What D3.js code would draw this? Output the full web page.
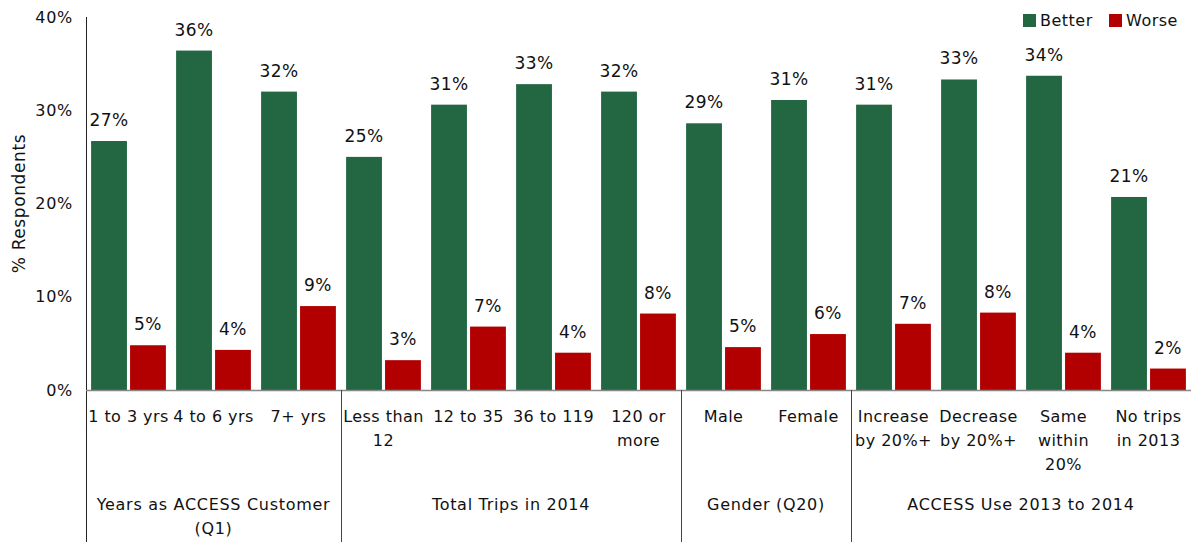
<!DOCTYPE html>

<head>
  <meta charset="utf-8">
  <script src="https://cdnjs.cloudflare.com/ajax/libs/d3/7.8.5/d3.min.js"></script>
</head>

<style>
  body { margin: 0; background: #fff; }
  text {
    font-family: "DejaVu Sans", sans-serif;
    font-size: 16px;
    fill: #111;
    letter-spacing: 0.7px;
  }
  .catlbl { letter-spacing: 0.45px; }
  .lbl { font-size: 17px; letter-spacing: 0.5px; }
  .ytitle { font-size: 17px; letter-spacing: 0.6px; }
  .bar_better { fill: #236642; }
  .bar_worse { fill: #b20000; }
</style>

<body>
  <svg width="1191" height="542" viewBox="0 0 1191 542" class="my_bar"></svg>

  <script>

  // categories (| = line break as in the original)
  let categories = ["1 to 3 yrs", "4 to 6 yrs", "7+ yrs",
                    "Less than|12", "12 to 35", "36 to 119", "120 or|more",
                    "Male", "Female",
                    "Increase|by 20%+", "Decrease|by 20%+", "Same|within|20%", "No trips|in 2013"];
  let better = [26.7, 36.4, 32.0, 25.0, 30.6, 32.8, 32.0, 28.6, 31.1, 30.6, 33.3, 33.7, 20.7];
  let worse  = [4.8, 4.3, 9.0, 3.2, 6.8, 4.0, 8.2, 4.6, 6.0, 7.1, 8.3, 4.0, 2.3];
  let groups = ["Years as ACCESS Customer|(Q1)", "Total Trips in 2014", "Gender (Q20)", "ACCESS Use 2013 to 2014"];
  let groupSizes = [3, 4, 2, 4];
  let yTicks = [0, 10, 20, 30, 40];
  let series = ["Better", "Worse"];

  let svg = d3.select(".my_bar");

  let pLeft = 86, pRight = 1191, pTop = 17, pBase = 390, pBottom = 542;

  let x0 = d3.scaleBand().domain(d3.range(categories.length))
      .range([pLeft, pRight]).paddingInner(0.12).paddingOuter(0.06);
  let x1 = d3.scaleBand().domain(series).range([0, x0.bandwidth()]).paddingInner(0.08);
  let y = d3.scaleLinear().domain([0, 40]).range([pBase, pTop]);

  let data = categories.map(function(c, i) {
    return {i: i, vals: [{s: "Better", v: better[i]}, {s: "Worse", v: worse[i]}]};
  });

  // bars
  let cat = svg.selectAll(".cat").data(data).enter().append("g")
      .attr("transform", function(d) { return "translate(" + x0(d.i) + ",0)"; });

  cat.selectAll("rect").data(function(d) { return d.vals; }).enter().append("rect")
      .attr("class", function(d) { return d.s == "Better" ? "bar_better" : "bar_worse"; })
      .attr("x", function(d) { return x1(d.s); })
      .attr("y", function(d) { return y(d.v); })
      .attr("width", x1.bandwidth())
      .attr("height", function(d) { return pBase - y(d.v); });

  cat.selectAll(".lbl").data(function(d) { return d.vals; }).enter().append("text")
      .attr("class", "lbl")
      .attr("text-anchor", "middle")
      .attr("x", function(d) { return x1(d.s) + x1.bandwidth() / 2; })
      .attr("y", function(d) { return y(d.v) - 15; })
      .text(function(d) { return d3.format(".0f")(d.v) + "%"; });

  // y axis
  let yAxis = svg.append("g")
      .attr("transform", "translate(" + pLeft + ",0)")
      .call(d3.axisLeft(y).tickValues(yTicks).tickSize(0).tickPadding(13)
            .tickFormat(function(d) { return d + "%"; }));
  yAxis.select(".domain").remove();
  yAxis.selectAll("text").style("font-size", "16px").style("font-family", "DejaVu Sans");

  svg.append("line")
      .attr("x1", pLeft + 0.5).attr("x2", pLeft + 0.5)
      .attr("y1", pTop).attr("y2", pBottom)
      .attr("stroke", "#222").attr("stroke-width", 1);

  svg.append("text")
      .attr("class", "ytitle")
      .attr("transform", "translate(25," + ((pTop + pBase) / 2) + ") rotate(-90)")
      .attr("text-anchor", "middle")
      .text("% Respondents");

  // x axis line
  svg.append("line")
      .attr("x1", pLeft).attr("x2", pRight)
      .attr("y1", pBase + 0.5).attr("y2", pBase + 0.5)
      .attr("stroke", "#888").attr("stroke-width", 1.5);

  // category labels
  let step = x0.step();
  let edge = function(i) { return x0(i) - (step - x0.bandwidth()) / 2; };

  svg.selectAll(".catlbl").data(categories).enter().append("text")
      .attr("class", "catlbl")
      .attr("text-anchor", "middle")
      .attr("y", 422)
      .each(function(c, i) {
        let t = d3.select(this);
        c.split("|").forEach(function(line, k) {
          t.append("tspan")
            .attr("x", x0(i) + x0.bandwidth() / 2)
            .attr("dy", k == 0 ? 0 : 24)
            .text(line);
        });
      });

  // group separators and labels
  let starts = [];
  let acc = 0;
  groupSizes.forEach(function(n) { starts.push(acc); acc += n; });

  starts.forEach(function(s, gi) {
    if (gi > 0) {
      svg.append("line")
        .attr("x1", Math.round(edge(s)) + 0.5).attr("x2", Math.round(edge(s)) + 0.5)
        .attr("y1", pBase).attr("y2", pBottom)
        .attr("stroke", "#444").attr("stroke-width", 1);
    }
    let a = edge(s), b = edge(s + groupSizes[gi] - 1) + step;
    let t = svg.append("text").attr("text-anchor", "middle").attr("y", 510);
    groups[gi].split("|").forEach(function(line, k) {
      t.append("tspan").attr("x", (a + b) / 2).attr("dy", k == 0 ? 0 : 24).text(line);
    });
  });

  // legend
  let legendX = [1023, 1109];
  let legend = svg.selectAll(".leg").data(series).enter().append("g")
      .attr("transform", function(d, i) { return "translate(" + legendX[i] + ",14)"; });
  legend.append("rect")
      .attr("width", 13).attr("height", 13)
      .attr("class", function(d) { return d == "Better" ? "bar_better" : "bar_worse"; });
  legend.append("text")
      .attr("x", 17).attr("y", 12)
      .style("letter-spacing", "0.5px")
      .text(function(d) { return d; });

  </script>

</body>
</html>
